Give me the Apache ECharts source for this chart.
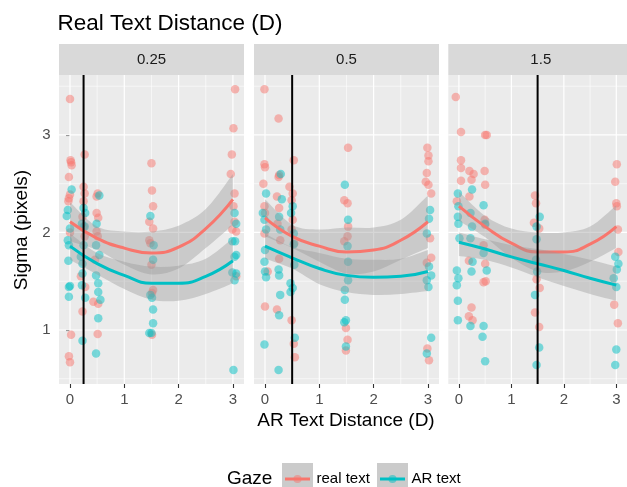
<!DOCTYPE html>
<html><head><meta charset="utf-8">
<script src="https://cdn.jsdelivr.net/npm/echarts@6/dist/echarts.min.js"></script>
<style>html,body{margin:0;padding:0;background:#fff}#c{width:627px;height:487px}</style>
</head><body><div id="c"></div><script>
const FONT = '"Liberation Sans", Arial, Helvetica, sans-serif';
const RED = '#F8766D', BLUE = '#00BFC4';

// ---- data ----
const panelLabels = ['0.25', '0.5', '1.5'];
const realTextDist = [0.25, 0.5, 1.5];
const xTicks = [0, 1, 2, 3];
const yTicks = [1, 2, 3];
const xGridMajor = [0, 1, 2, 3];
const xGridMinor = [0.5, 1.5, 2.5];
const yGridMajor = [1, 2, 3];
const yGridMinor = [0.5, 1.5, 2.5, 3.5];
const fitX = [0, 0.5, 1, 1.5, 2, 2.5, 3];

// panel 0.25
const real025 = [[0.0,3.37],[0.01,2.74],[0.03,2.69],[0.02,2.72],[-0.02,2.57],[0.0,2.39],[-0.02,2.35],[-0.03,2.32],[0.0,2.0],[0.02,0.95],[-0.02,0.73],[0.0,0.67],
[0.27,2.80],[0.25,2.47],[0.27,2.40],[0.25,2.32],[0.23,2.16],[0.25,2.06],[0.27,1.96],[0.2,1.55],[0.28,1.44],[0.23,1.19],
[0.51,2.40],[0.49,2.37],[0.49,2.2],[0.52,2.15],[0.49,2.01],[0.51,1.96],[0.46,1.72],[0.43,1.29],[0.52,1.27],[0.51,0.96],
[1.5,2.71],[1.51,2.43],[1.53,2.27],[1.46,2.11],[1.53,2.04],[1.46,1.92],[1.48,1.89],[1.5,1.67],[1.53,1.41],[1.51,1.38],[1.51,0.95],
[3.04,3.47],[3.01,3.07],[2.98,2.80],[2.96,2.60],[3.03,2.40],[3.01,2.27],[3.03,2.11],[2.99,2.03],[3.06,2.01],[3.06,1.55]];
const ar025 = [[0.03,2.44],[-0.04,2.23],[-0.06,2.17],[0.0,2.04],[-0.04,1.92],[-0.02,1.87],[-0.03,1.71],[0.0,1.45],[-0.02,1.44],[-0.02,1.34],
[0.25,2.25],[0.28,2.2],[0.22,2.09],[0.27,2.06],[0.25,1.87],[0.2,1.75],[0.23,1.68],[0.23,1.58],[0.22,1.46],[0.28,1.33],[0.23,0.89],
[0.54,2.38],[0.49,2.09],[0.48,1.87],[0.54,1.77],[0.48,1.56],[0.52,1.48],[0.52,1.39],[0.56,1.31],[0.52,1.12],[0.48,0.76],
[1.48,2.17],[1.54,1.87],[1.53,1.72],[1.48,1.36],[1.51,1.33],[1.53,1.21],[1.53,1.07],[1.46,0.97],[1.5,0.97],
[3.03,2.2],[3.06,2.09],[2.99,1.91],[3.04,1.91],[3.06,1.77],[3.03,1.75],[2.99,1.59],[3.06,1.58],[3.03,1.51],[3.01,0.59]];
const realFit025 = [2.11,1.94,1.84,1.79,1.85,2.04,2.34];
const realLo025  = [1.91,1.82,1.67,1.57,1.63,1.84,2.08];
const realHi025  = [2.31,2.06,2.01,2.01,2.07,2.24,2.60];
const arFit025 = [1.86,1.68,1.56,1.48,1.48,1.55,1.71];
const arLo025  = [1.72,1.57,1.42,1.31,1.30,1.37,1.48];
const arHi025  = [1.99,1.79,1.70,1.65,1.66,1.73,1.94];

// panel 0.5
const real05 = [[-0.01,3.47],[0.25,3.17],[-0.01,2.70],[0.0,2.67],[-0.03,2.50],[-0.01,2.27],[0.0,2.20],[-0.01,1.99],[0.05,1.6],[0.0,1.24],
[0.26,2.59],[0.25,2.57],[0.22,2.37],[0.26,2.25],[0.23,2.09],[0.28,1.92],[0.26,1.73],[0.22,1.21],
[0.53,2.74],[0.45,2.47],[0.51,2.40],[0.49,2.33],[0.51,2.13],[0.49,2.03],[0.54,1.89],[0.49,1.10],[0.53,0.86],[0.55,0.72],
[1.53,2.87],[1.46,2.33],[1.52,2.30],[1.53,2.06],[1.52,1.96],[1.46,1.91],[1.49,1.02],[1.52,0.9],[1.49,0.79],
[2.99,2.87],[3.01,2.79],[3.01,2.73],[2.98,2.61],[2.96,2.52],[3.01,2.49],[3.06,2.40],[3.04,1.94],[3.06,1.74],[2.98,1.69],[2.99,0.81],[3.02,0.69]];
const ar05 = [[0.02,2.40],[-0.04,2.20],[-0.01,2.13],[0.02,2.03],[0.0,1.82],[-0.01,1.70],[0.0,1.6],[0.02,1.54],[-0.01,0.85],
[0.29,2.6],[0.31,2.34],[0.26,2.16],[0.28,2.03],[0.25,1.62],[0.26,1.56],[0.28,1.36],[0.26,1.15],[0.25,0.59],
[0.51,2.27],[0.48,2.2],[0.53,1.99],[0.53,1.88],[0.54,1.67],[0.47,1.48],[0.51,1.43],[0.47,1.39],[0.55,0.92],
[1.47,2.49],[1.53,2.13],[1.52,1.86],[1.53,1.7],[1.53,1.51],[1.47,1.41],[1.47,1.31],[1.49,1.1],[1.46,1.08],[1.49,0.83],
[3.04,2.23],[3.02,2.14],[2.98,1.99],[3.02,1.65],[3.06,1.56],[2.98,1.51],[3.01,1.44],[3.06,0.92],[2.98,0.76]];
const realFit05 = [2.15,1.96,1.86,1.80,1.82,1.92,2.11];
const realLo05  = [1.96,1.84,1.70,1.58,1.60,1.72,1.84];
const realHi05  = [2.34,2.08,2.03,2.05,2.05,2.13,2.38];
const arFit05 = [1.86,1.74,1.63,1.56,1.54,1.55,1.60];
const arLo05  = [1.73,1.63,1.47,1.39,1.36,1.37,1.40];
const arHi05  = [1.99,1.85,1.79,1.73,1.72,1.73,1.82];

// panel 1.5
const real15 = [[-0.06,3.39],[0.04,3.03],[0.5,3.0],[0.53,3.0],[0.04,2.74],[0.04,2.66],[0.04,2.53],[-0.04,2.32],
[0.2,2.63],[0.28,2.6],[0.24,2.54],[0.2,2.37],[0.49,2.63],[0.5,2.49],[0.49,2.13],[0.5,2.08],[0.19,1.71],[0.24,1.23],[0.19,1.14],[0.26,1.10],[0.47,1.87],[0.5,1.68],[0.47,1.49],[0.51,1.5],
[1.45,2.38],[1.47,2.3],[1.43,2.1],[1.53,2.04],[1.48,1.52],[1.54,1.43],[1.45,1.18],[1.53,1.03],
[3.01,2.7],[2.98,2.52],[3.0,2.30],[3.01,2.27],[3.03,2.03],[3.04,1.8],[2.96,1.26],[3.03,1.07]];
const ar15 = [[-0.02,2.4],[-0.01,2.27],[-0.02,2.16],[-0.01,2.09],[0.01,1.94],[-0.04,1.61],[-0.01,1.53],[-0.04,1.46],[-0.02,1.30],[-0.02,1.1],
[0.25,2.44],[0.22,2.2],[0.25,2.06],[0.22,1.94],[0.26,1.7],[0.24,1.6],[0.22,1.04],
[0.47,2.28],[0.5,2.09],[0.47,1.79],[0.53,1.61],[0.47,1.04],[0.45,0.93],[0.5,0.68],
[1.54,2.16],[1.48,2.06],[1.48,1.93],[1.47,1.72],[1.49,1.6],[1.45,1.36],[1.53,0.82],[1.48,0.64],
[2.98,1.75],[3.04,1.68],[3.01,1.62],[2.95,1.53],[3.0,1.44],[3.0,0.80],[2.98,0.64]];
const realFit15 = [2.27,2.06,1.89,1.80,1.80,1.88,2.06];
const realLo15  = [2.12,1.95,1.74,1.60,1.60,1.70,1.84];
const realHi15  = [2.42,2.17,2.04,2.00,2.00,2.06,2.28];
const arFit15 = [1.90,1.83,1.75,1.68,1.61,1.53,1.46];
const arLo15  = [1.76,1.72,1.64,1.54,1.45,1.37,1.30];
const arHi15  = [2.00,1.93,1.87,1.83,1.78,1.72,1.65];

const realPts = [real025, real05, real15];
const arPts = [ar025, ar05, ar15];
const realFit = [realFit025, realFit05, realFit15];
const realLo = [realLo025, realLo05, realLo15];
const realHi = [realHi025, realHi05, realHi15];
const arFit = [arFit025, arFit05, arFit15];
const arLo = [arLo025, arLo05, arLo15];
const arHi = [arHi025, arHi05, arHi15];

// ---- layout ----
const X_MIN = -0.2026, X_MAX = 3.204, Y_MIN = 0.446, Y_MAX = 3.615;
const panelLeft = [59, 254, 448.3];
const PANEL_W = 185, PANEL_TOP = 75, PANEL_H = 309;
const STRIP_TOP = 44, STRIP_H = 31;

function curve(pts) {
  let s = '';
  for (let k = 0; k < pts.length - 1; k++) {
    const p0 = pts[Math.max(k - 1, 0)], p1 = pts[k], p2 = pts[k + 1], p3 = pts[Math.min(k + 2, pts.length - 1)];
    const c1 = [p1[0] + (p2[0] - p0[0]) / 6, p1[1] + (p2[1] - p0[1]) / 6];
    const c2 = [p2[0] - (p3[0] - p1[0]) / 6, p2[1] - (p3[1] - p1[1]) / 6];
    s += ' C' + c1[0] + ' ' + c1[1] + ' ' + c2[0] + ' ' + c2[1] + ' ' + p2[0] + ' ' + p2[1];
  }
  return s;
}
function bandSeries(i, lo, hi, z) {
  return {
    type: 'custom', xAxisIndex: i, yAxisIndex: i, z: z, silent: true, data: [[1, 2]],
    renderItem: function (p, api) {
      const up = fitX.map((x, k) => api.coord([x, hi[k]]));
      const dn = fitX.map((x, k) => api.coord([x, lo[k]])).reverse();
      const d = 'M' + up[0][0] + ' ' + up[0][1] + curve(up) + ' L' + dn[0][0] + ' ' + dn[0][1] + curve(dn) + ' Z';
      return { type: 'path', shape: { pathData: d }, style: { fill: 'rgba(153,153,153,0.4)' } };
    }
  };
}
function vLines(i, vals, color, widthFn, z) {
  return {
    type: 'custom', xAxisIndex: i, yAxisIndex: i, z: z, silent: true,
    data: vals.map(v => [v, 2]),
    renderItem: function (p, api) {
      const v = api.value(0);
      const a = api.coord([v, Y_MIN]), b = api.coord([v, Y_MAX]);
      return { type: 'line', shape: { x1: a[0], y1: a[1], x2: b[0], y2: b[1] }, style: { stroke: color, lineWidth: widthFn } };
    }
  };
}
function hLines(i, vals, color, w, z) {
  return {
    type: 'custom', xAxisIndex: i, yAxisIndex: i, z: z, silent: true,
    data: vals.map(v => [1, v]),
    renderItem: function (p, api) {
      const v = api.value(1);
      const a = api.coord([X_MIN, v]), b = api.coord([X_MAX, v]);
      return { type: 'line', shape: { x1: a[0], y1: a[1], x2: b[0], y2: b[1] }, style: { stroke: color, lineWidth: w } };
    }
  };
}

const grids = [], xAxes = [], yAxes = [], series = [], graphics = [];
for (let i = 0; i < 3; i++) {
  grids.push({ left: panelLeft[i], top: PANEL_TOP, width: PANEL_W, height: PANEL_H, show: true, backgroundColor: '#EBEBEB', borderWidth: 0 });
  xAxes.push({
    type: 'value', gridIndex: i, min: X_MIN, max: X_MAX,
    axisLine: { show: false }, splitLine: { show: false },
    axisTick: { show: true, customValues: xTicks, length: 4, lineStyle: { color: '#333333', width: 1.1 } },
    axisLabel: { show: true, customValues: xTicks, fontSize: 15, color: '#4D4D4D', margin: 8, fontFamily: FONT, formatter: v => String(v) }
  });
  yAxes.push({
    type: 'value', gridIndex: i, min: Y_MIN, max: Y_MAX,
    axisLine: { show: false }, splitLine: { show: false },
    axisTick: { show: i === 0, customValues: yTicks, length: 4, lineStyle: { color: '#333333', width: 1.1 } },
    axisLabel: { show: i === 0, customValues: yTicks, fontSize: 15, color: '#4D4D4D', margin: 8.5, fontFamily: FONT, formatter: v => String(v) }
  });
  series.push(vLines(i, xGridMinor, '#FFFFFF', 0.6, 1));
  series.push(hLines(i, yGridMinor, '#FFFFFF', 0.6, 1));
  series.push(vLines(i, xGridMajor, '#FFFFFF', 1.2, 1));
  series.push(hLines(i, yGridMajor, '#FFFFFF', 1.2, 1));
  series.push({ type: 'scatter', xAxisIndex: i, yAxisIndex: i, z: 2, silent: true, symbol: 'circle', symbolSize: 8.5,
    data: realPts[i], itemStyle: { color: RED, opacity: 0.5 } });
  series.push({ type: 'scatter', xAxisIndex: i, yAxisIndex: i, z: 2, silent: true, symbol: 'circle', symbolSize: 8.5,
    data: arPts[i], itemStyle: { color: BLUE, opacity: 0.5 } });
  series.push(bandSeries(i, realLo[i], realHi[i], 3));
  series.push({ type: 'line', xAxisIndex: i, yAxisIndex: i, z: 4, silent: true, smooth: 0.5, showSymbol: false, symbol: 'none',
    data: fitX.map((x, k) => [x, realFit[i][k]]), lineStyle: { color: RED, width: 3 } });
  series.push(bandSeries(i, arLo[i], arHi[i], 5));
  series.push({ type: 'line', xAxisIndex: i, yAxisIndex: i, z: 6, silent: true, smooth: 0.5, showSymbol: false, symbol: 'none',
    data: fitX.map((x, k) => [x, arFit[i][k]]), lineStyle: { color: BLUE, width: 3 } });
  series.push(vLines(i, [realTextDist[i]], '#000000', 2, 7));

  graphics.push({ type: 'rect', left: panelLeft[i], top: STRIP_TOP, shape: { width: PANEL_W, height: STRIP_H }, style: { fill: '#D9D9D9' }, silent: true });
  graphics.push({ type: 'text', x: panelLeft[i] + PANEL_W / 2, y: STRIP_TOP + STRIP_H / 2 + 0.5,
    style: { text: panelLabels[i], fill: '#1A1A1A', font: '15px ' + FONT, textAlign: 'center', textVerticalAlign: 'middle' } });
}

// titles
graphics.push({ type: 'text', x: 57.5, y: 23.5, style: { text: 'Real Text Distance (D)', fill: '#000', font: '22.5px ' + FONT, textAlign: 'left', textVerticalAlign: 'middle' } });
graphics.push({ type: 'text', x: 346, y: 421, style: { text: 'AR Text Distance (D)', fill: '#000', font: '19px ' + FONT, textAlign: 'center', textVerticalAlign: 'middle' } });
graphics.push({ type: 'text', x: 22, y: 230, rotation: Math.PI / 2, style: { text: 'Sigma (pixels)', fill: '#000', font: '19px ' + FONT, textAlign: 'center', textVerticalAlign: 'middle' } });

// legend
const legendItems = [{ name: 'real text', color: RED, x: 282 }, { name: 'AR text', color: BLUE, x: 377 }];
graphics.push({ type: 'text', x: 227, y: 479, style: { text: 'Gaze', fill: '#000', font: '19px ' + FONT, textAlign: 'left', textVerticalAlign: 'middle' } });
legendItems.forEach(it => {
  graphics.push({ type: 'rect', shape: { x: it.x, y: 463, width: 31, height: 30 }, style: { fill: '#CBCBCB' }, silent: true });
  graphics.push({ type: 'circle', shape: { cx: it.x + 15.5, cy: 479, r: 4 }, style: { fill: it.color, opacity: 0.5 }, silent: true });
  graphics.push({ type: 'line', shape: { x1: it.x + 3, y1: 479, x2: it.x + 28, y2: 479 }, style: { stroke: it.color, lineWidth: 3 }, silent: true });
  graphics.push({ type: 'text', x: it.x + 34.5, y: 479, style: { text: it.name, fill: '#000', font: '15px ' + FONT, textAlign: 'left', textVerticalAlign: 'middle' } });
});

const chart = echarts.init(document.getElementById('c'), null, { renderer: 'canvas' });
chart.setOption({
  animation: false,
  backgroundColor: '#FFFFFF',
  grid: grids, xAxis: xAxes, yAxis: yAxes, series: series, graphic: graphics
});
</script></body></html>
